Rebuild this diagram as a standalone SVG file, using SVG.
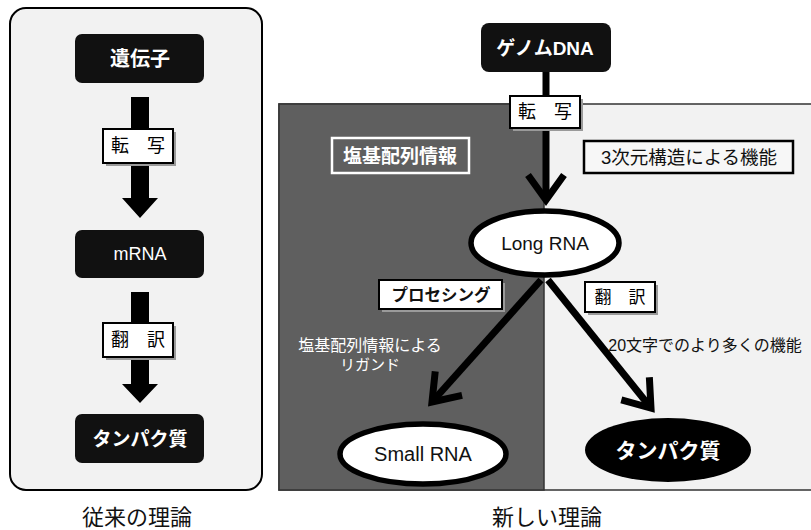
<svg xmlns="http://www.w3.org/2000/svg" width="811" height="530" viewBox="0 0 811 530">
<style>
text{font-family:"Liberation Sans","Noto Sans CJK JP",sans-serif;text-anchor:middle;dominant-baseline:central}
.blk{fill:#111}
.wt{fill:#fff}
.b{font-weight:bold}
.lbl{fill:#fff;stroke:#000;stroke-width:2}
.shd{fill:#9a9a9a}
.conn{fill:none;stroke:#000;stroke-width:7}
.ell{fill:#fff;stroke:#000;stroke-width:5.5}
</style>
<defs>
<marker id="chev" markerUnits="userSpaceOnUse" refX="0" refY="0" orient="auto" overflow="visible" markerWidth="1" markerHeight="1">
<path d="M-25,-18 L0,0 L-25,18" fill="none" stroke="#000" stroke-width="7" stroke-linejoin="miter" stroke-miterlimit="10"/>
</marker>
</defs>
<rect width="811" height="530" fill="#fff"/>

<!-- left panel -->
<g id="panel-old">
<rect x="10" y="8" width="252" height="482" rx="16" fill="#f2f2f2" stroke="#000" stroke-width="2"/>
<text x="137" y="517" font-size="22" fill="#111">従来の理論</text>
</g>

<!-- right panel -->
<g id="panel-new">
<rect x="279" y="104" width="540" height="386" fill="#f2f2f2" stroke="#333" stroke-width="1.5"/>
<rect x="279" y="104" width="265" height="386" fill="#5f5f5f" stroke="#333" stroke-width="1.5"/>
<text x="547" y="517" font-size="22" fill="#111">新しい理論</text>
</g>

<g id="connectors">
<polygon points="131,97 149,97 149,198 158,198 140,218 122,198 131,198" fill="#000"/>
<polygon points="131,292 149,292 149,384 158,384 140,403 122,384 131,384" fill="#000"/>
<line class="conn" x1="546" y1="72" x2="546" y2="200" marker-end="url(#chev)"/>
<line class="conn" x1="541" y1="280" x2="432" y2="402" marker-end="url(#chev)"/>
<line class="conn" x1="548" y1="280" x2="651" y2="408" marker-end="url(#chev)"/>
</g>

<g id="label-tensha-old">
<rect class="shd" x="106" y="132" width="70" height="34"/>
<rect class="lbl" x="103" y="129" width="70" height="34"/>
<text x="138" y="146" font-size="18">転　写</text>
</g>
<g id="label-honyaku-old">
<rect class="shd" x="106" y="326" width="70" height="34"/>
<rect class="lbl" x="103" y="323" width="70" height="34"/>
<text x="138" y="340" font-size="18">翻　訳</text>
</g>

<g id="node-gene">
<rect class="blk" x="75" y="34" width="129" height="49" rx="7"/>
<text class="wt b" x="140" y="59" font-size="20">遺伝子</text>
</g>
<g id="node-mrna">
<rect class="blk" x="75" y="230" width="129" height="48" rx="7"/>
<text class="wt" x="140" y="254" font-size="18">mRNA</text>
</g>
<g id="node-protein-old">
<rect class="blk" x="75" y="414" width="129" height="49" rx="7"/>
<text class="wt b" x="140" y="439" font-size="19">タンパク質</text>
</g>

<g id="node-genome">
<rect class="blk" x="481" y="23" width="130" height="49" rx="8"/>
<text class="wt b" x="545" y="48" font-size="19">ゲノムDNA</text>
</g>
<g id="label-tensha-new">
<rect class="shd" x="513" y="99" width="70" height="32"/>
<rect class="lbl" x="510" y="96" width="70" height="32"/>
<text x="545" y="112" font-size="18">転　写</text>
</g>

<g id="label-seq">
<rect x="332" y="138" width="137" height="35" fill="#5f5f5f" stroke="#fff" stroke-width="2.5"/>
<text class="wt b" x="400" y="156" font-size="19">塩基配列情報</text>
</g>
<g id="label-3d">
<rect x="584" y="141" width="209" height="32" fill="#f7f7f7" stroke="#000" stroke-width="2.5"/>
<text x="689" y="157" font-size="18.5" fill="#111">3次元構造による機能</text>
</g>

<g id="node-long-rna">
<ellipse class="ell" cx="545" cy="243" rx="74" ry="32"/>
<text x="545" y="243" font-size="19" fill="#111">Long RNA</text>
</g>

<g id="label-processing">
<rect class="shd" x="382" y="283" width="123" height="29"/>
<rect class="lbl" x="379" y="280" width="123" height="29"/>
<text class="b" x="441" y="295" font-size="16.5" fill="#111">プロセシング</text>
</g>
<g id="label-honyaku-new">
<rect class="shd" x="588" y="285" width="70" height="30"/>
<rect class="lbl" x="585" y="282" width="70" height="30"/>
<text x="620" y="297" font-size="17">翻　訳</text>
</g>

<g id="note-ligand">
<text class="wt" x="370" y="345" font-size="16">塩基配列情報による</text>
<text class="wt" x="370" y="364" font-size="15">リガンド</text>
</g>
<g id="note-20">
<text x="705" y="345" font-size="16" fill="#111">20文字でのより多くの機能</text>
</g>

<g id="node-small-rna">
<ellipse class="ell" cx="423" cy="454" rx="83" ry="30"/>
<text x="423" y="454" font-size="20" fill="#111">Small RNA</text>
</g>
<g id="node-protein-new">
<ellipse cx="668" cy="450" rx="83" ry="32" fill="#000"/>
<text class="wt b" x="668" y="450" font-size="21">タンパク質</text>
</g>
</svg>
